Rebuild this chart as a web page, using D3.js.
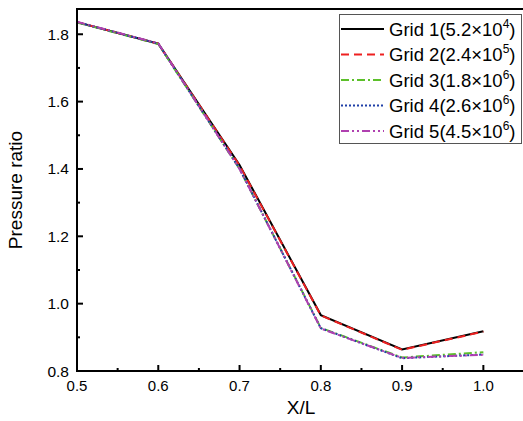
<!DOCTYPE html>
<html>
<head>
<meta charset="utf-8">
<script src="https://cdn.jsdelivr.net/npm/d3@7"></script>
<style>
  body { margin: 0; background: #fff; }
  text { font-family: "Liberation Sans", Arial, sans-serif; }
</style>
</head>
<body>
<div id="chart"></div>
<script>
// data
const xPos = [0.5, 0.6, 0.7, 0.8, 0.9, 1.0];
const grid1 = [1.836, 1.772, 1.412, 0.966, 0.864, 0.918];
const grid2 = [1.836, 1.772, 1.410, 0.965, 0.863, 0.917];
const grid3 = [1.835, 1.771, 1.400, 0.928, 0.840, 0.856];
const grid4 = [1.836, 1.772, 1.401, 0.927, 0.838, 0.849];
const grid5 = [1.837, 1.773, 1.400, 0.926, 0.839, 0.848];
const gridNames = ["Grid 1(5.2×10", "Grid 2(2.4×10", "Grid 3(1.8×10", "Grid 4(2.6×10", "Grid 5(4.5×10"];
const gridExp = ["4", "5", "6", "6", "6"];
const xTicks = [0.5, 0.6, 0.7, 0.8, 0.9, 1.0];
const yTicks = [0.8, 1.0, 1.2, 1.4, 1.6, 1.8];

const series = [
  {vals: grid1, color: "#000000", dash: null},
  {vals: grid2, color: "#ee2020", dash: "8,5"},
  {vals: grid3, color: "#5cc02a", dash: "8,3,2,3"},
  {vals: grid4, color: "#2040a8", dash: "2,2"},
  {vals: grid5, color: "#b040b0", dash: "8,3,2,3,2,3"}
];

const W = 523, H = 421;
const mLeft = 77, mTop = 9, mRight = 524, mBottom = 371;

const svg = d3.select("#chart").append("svg")
    .attr("width", W)
    .attr("height", H);

const x = d3.scaleLinear().domain([0.5, 1.05]).range([mLeft, mRight]);
const y = d3.scaleLinear().domain([0.8, 1.875]).range([mBottom, mTop]);

// lines
const line = d3.line()
    .x((d, i) => x(xPos[i]))
    .y(d => y(d));

series.forEach(s => {
  svg.append("path")
      .attr("d", line(s.vals))
      .attr("fill", "none")
      .attr("stroke", s.color)
      .attr("stroke-width", 2)
      .attr("stroke-dasharray", s.dash);
});

// frame
svg.append("rect")
    .attr("x", mLeft)
    .attr("y", mTop)
    .attr("width", mRight - mLeft)
    .attr("height", mBottom - mTop)
    .attr("fill", "none")
    .attr("stroke", "#000")
    .attr("stroke-width", 2);

// x axis ticks (inward)
const xMinor = [0.55, 0.65, 0.75, 0.85, 0.95];
svg.selectAll(".xmaj").data(xTicks).join("line")
    .attr("x1", d => x(d)).attr("x2", d => x(d))
    .attr("y1", mBottom).attr("y2", mBottom - 6)
    .attr("stroke", "#000").attr("stroke-width", 2);
svg.selectAll(".xmin").data(xMinor).join("line")
    .attr("x1", d => x(d)).attr("x2", d => x(d))
    .attr("y1", mBottom).attr("y2", mBottom - 3)
    .attr("stroke", "#000").attr("stroke-width", 2);
svg.selectAll(".xlab").data(xTicks).join("text")
    .attr("x", d => x(d))
    .attr("y", mBottom + 20)
    .attr("text-anchor", "middle")
    .attr("font-size", 15)
    .text(d => d.toFixed(1));

// y axis ticks (inward)
const yMinor = [0.9, 1.1, 1.3, 1.5, 1.7];
svg.selectAll(".ymaj").data(yTicks).join("line")
    .attr("x1", mLeft).attr("x2", mLeft + 6)
    .attr("y1", d => y(d)).attr("y2", d => y(d))
    .attr("stroke", "#000").attr("stroke-width", 2);
svg.selectAll(".ymin").data(yMinor).join("line")
    .attr("x1", mLeft).attr("x2", mLeft + 3)
    .attr("y1", d => y(d)).attr("y2", d => y(d))
    .attr("stroke", "#000").attr("stroke-width", 2);
svg.selectAll(".ylab").data(yTicks).join("text")
    .attr("x", mLeft - 8)
    .attr("y", d => y(d) + 5.5)
    .attr("text-anchor", "end")
    .attr("font-size", 15.5)
    .text(d => d.toFixed(1));

// axis titles
svg.append("text")
    .attr("x", 301)
    .attr("y", 414)
    .attr("text-anchor", "middle")
    .attr("font-size", 19)
    .text("X/L");
svg.append("text")
    .attr("transform", `translate(22, ${(mTop + mBottom) / 2}) rotate(-90)`)
    .attr("text-anchor", "middle")
    .attr("font-size", 19)
    .text("Pressure ratio");

// legend
const lg = svg.append("g");
lg.append("rect")
    .attr("x", 339.5).attr("y", 14.5)
    .attr("width", 182).attr("height", 129)
    .attr("fill", "#fff")
    .attr("stroke", "#555")
    .attr("stroke-width", 1);
series.forEach((s, i) => {
  const ly = 29 + i * 25.5;
  lg.append("line")
      .attr("x1", 341).attr("x2", 384)
      .attr("y1", ly).attr("y2", ly)
      .attr("stroke", s.color)
      .attr("stroke-width", 2)
      .attr("stroke-dasharray", s.dash);
  const t = lg.append("text")
      .attr("x", 389)
      .attr("y", ly + 6.5)
      .attr("font-size", 18.5);
  t.append("tspan").text(gridNames[i]);
  t.append("tspan").attr("font-size", 12).attr("dy", -8).text(gridExp[i]);
  t.append("tspan").attr("dy", 8).text(")");
});
</script>
</body>
</html>
